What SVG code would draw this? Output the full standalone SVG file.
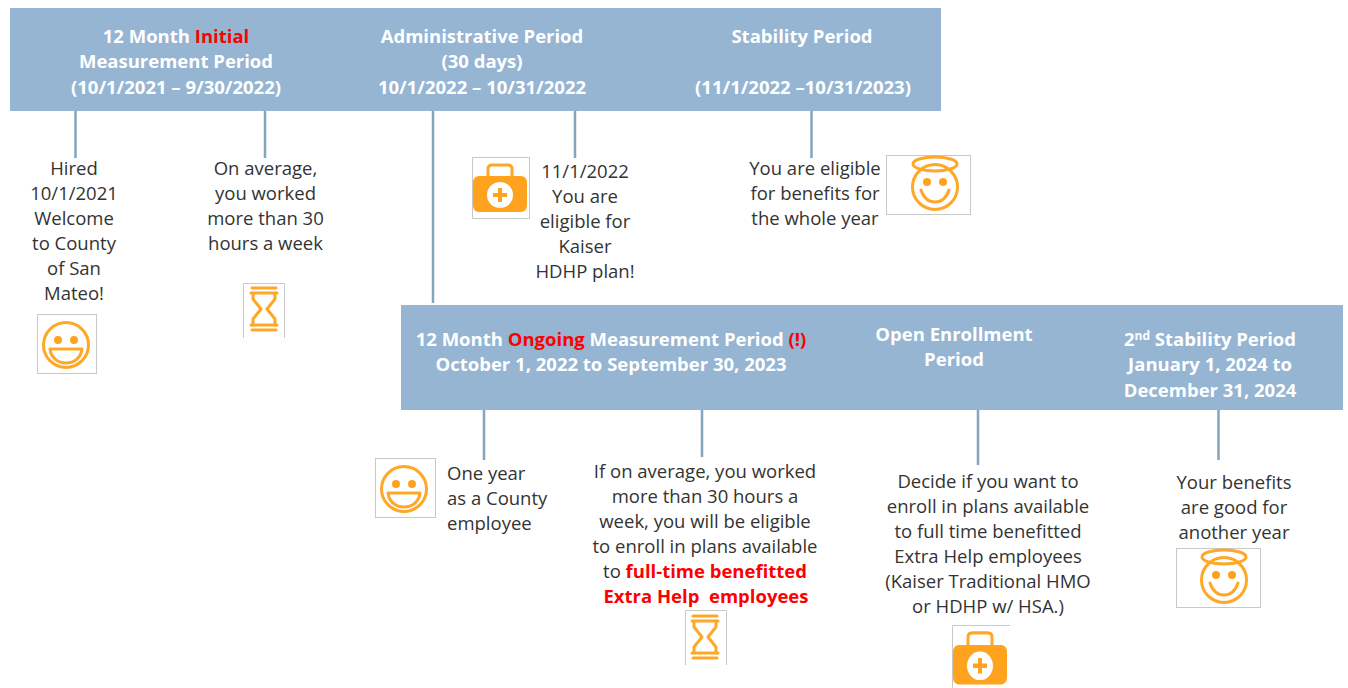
<svg xmlns="http://www.w3.org/2000/svg" width="1348" height="688" viewBox="0 0 1348 688">
<style>
text{font-family:"Open Sans","Noto Sans","Liberation Sans",sans-serif;text-anchor:middle;white-space:pre}
.h{font-size:18.5px;font-weight:700;fill:#fff}
.b{font-size:18.5px;fill:#333}
.r{fill:#f00}
.rb{fill:#f00;font-weight:700}
.band{fill:#95b5d3}
.c{stroke:#85a5bd;stroke-width:2.5;fill:none}
.box{fill:#fff;stroke:#c8c8c8;stroke-width:1}
.o{fill:none;stroke:#ffa726;stroke-width:3;stroke-linecap:round;stroke-linejoin:round}
.f{fill:#ffa31f}
</style>
<defs>
<g id="smile"><circle class="o" cx="0" cy="0" r="22.5"/><circle class="f" cx="-8" cy="-5" r="4"/><circle class="f" cx="8" cy="-5" r="4"/><path class="o" d="M-16 4H16C15 13 8 18 0 18S-15 13-16 4Z"/></g>
<g id="angel"><ellipse class="o" cx="-1" cy="-22" rx="22" ry="7"/><circle class="o" cx="-1" cy="1" r="22.500"/><circle class="f" cx="-9" cy="-4" r="4"/><circle class="f" cx="7" cy="-4" r="4"/><path class="o" d="M-15 4C-12 13-6 16-1 16S10 13 13 4"/></g>
<g id="kit"><path class="o" d="M-12-10V-18Q-12-22-8-22H8Q12-22 12-18V-10"/><rect class="f" x="-27" y="-11" width="54" height="36" rx="6"/><circle cx="0" cy="8" r="13" fill="#fff"/><path class="f" d="M-2 1H2V6H7V10H2V15H-2V10H-7V6H-2Z"/></g>
<g id="glass"><path class="o" d="M-12-21H12M-12 21H12M-13-16H13M-13 16H13"/><path class="o" d="M-11-16V-10L-3 0-11 10V16M11-16V-10L3 0 11 10V16"/></g>
</defs>
<g id="connectors">
<path class="c" d="M75.500 110V158M265 110V158M433 110V303M575 110V158M811.500 110V158M484 409V460M702 404V457M978 409V465M1218.500 409V460"/>
</g>
<g id="band-top"><rect class="band" x="10" y="8" width="931" height="103"/></g>
<g id="band-bottom"><rect class="band" x="401" y="305" width="942" height="105"/></g>
<g id="initial-period"><text class="h" x="176" y="43">12 Month <tspan class="r">Initial</tspan></text><text class="h" x="176" y="68">Measurement Period</text><text class="h" x="176" y="94">(10/1/2021 – 9/30/2022)</text></g>
<g id="admin-period"><text class="h" x="482" y="43">Administrative Period</text><text class="h" x="482" y="68">(30 days)</text><text class="h" x="482" y="94">10/1/2022 – 10/31/2022</text></g>
<g id="stability-period"><text class="h" x="802" y="43">Stability Period</text><text class="h" x="803" y="94">(11/1/2022 –10/31/2023)</text></g>
<g id="ongoing-period"><text class="h" x="611" y="346">12 Month <tspan class="r">Ongoing</tspan> Measurement Period <tspan class="r">(!)</tspan></text><text class="h" x="611" y="371">October 1, 2022 to September 30, 2023</text></g>
<g id="open-enrollment"><text class="h" x="954" y="341">Open Enrollment</text><text class="h" x="954" y="366">Period</text></g>
<g id="second-stability"><text class="h" x="1210" y="346">2<tspan font-size="12" dy="-6">nd</tspan><tspan dy="6"> Stability Period</tspan></text><text class="h" x="1210" y="371">January 1, 2024 to</text><text class="h" x="1210" y="397">December 31, 2024</text></g>
<g id="hired"><text class="b" x="74" y="175">Hired</text><text class="b" x="74" y="200">10/1/2021</text><text class="b" x="74" y="225">Welcome</text><text class="b" x="74" y="250">to County</text><text class="b" x="74" y="275">of San</text><text class="b" x="74" y="300">Mateo!</text>
<rect class="box" x="37.500" y="314.500" width="59" height="59"/><use href="#smile" x="66" y="345"/></g>
<g id="average"><text class="b" x="265.500" y="175">On average,</text><text class="b" x="265.500" y="200">you worked</text><text class="b" x="265.500" y="225">more than 30</text><text class="b" x="265.500" y="250">hours a week</text>
<path class="box" d="M243.500 338V283.500H284.500V338"/><use href="#glass" x="264" y="309"/></g>
<g id="eligible-kaiser"><rect class="box" x="472.500" y="157.500" width="57" height="61"/><use href="#kit" x="500" y="187"/>
<text class="b" x="585" y="178">11/1/2022</text><text class="b" x="585" y="203">You are</text><text class="b" x="585" y="228">eligible for</text><text class="b" x="585" y="253">Kaiser</text><text class="b" x="585" y="278">HDHP plan!</text></g>
<g id="eligible-year"><text class="b" x="815" y="175">You are eligible</text><text class="b" x="815" y="200">for benefits for</text><text class="b" x="815" y="225">the whole year</text>
<rect class="box" x="886.500" y="155.500" width="84" height="59"/><use href="#angel" x="936" y="186"/></g>
<g id="one-year"><rect class="box" x="375.500" y="458.500" width="60" height="59"/><use href="#smile" x="404" y="489"/>
<text class="b" x="447" y="480" style="text-anchor:start">One year</text><text class="b" x="447" y="505" style="text-anchor:start">as a County</text><text class="b" x="447" y="530" style="text-anchor:start">employee</text></g>
<g id="if-average"><text class="b" x="705" y="478">If on average, you worked</text><text class="b" x="705" y="503">more than 30 hours a</text><text class="b" x="705" y="528">week, you will be eligible</text><text class="b" x="705" y="553">to enroll in plans available</text><text class="b" x="705" y="578">to <tspan class="rb">full-time benefitted</tspan></text><text class="b rb" x="706" y="603">Extra Help  employees</text>
<path class="box" d="M685.500 665V610.500H726.500V665"/><use href="#glass" x="705" y="637"/></g>
<g id="decide"><text class="b" x="988" y="488">Decide if you want to</text><text class="b" x="988" y="513">enroll in plans available</text><text class="b" x="988" y="538">to full time benefitted</text><text class="b" x="988" y="563">Extra Help employees</text><text class="b" x="988" y="588">(Kaiser Traditional HMO</text><text class="b" x="988" y="613">or HDHP w/ HSA.)</text>
<path class="box" d="M952.500 688V625.500H1010"/><use href="#kit" transform="translate(980 657) scale(1 1.1)"/></g>
<g id="good"><text class="b" x="1234" y="489">Your benefits</text><text class="b" x="1234" y="514">are good for</text><text class="b" x="1234" y="539">another year</text>
<rect class="box" x="1176.500" y="548.500" width="84" height="59"/><use href="#angel" x="1225" y="579"/></g>
</svg>
